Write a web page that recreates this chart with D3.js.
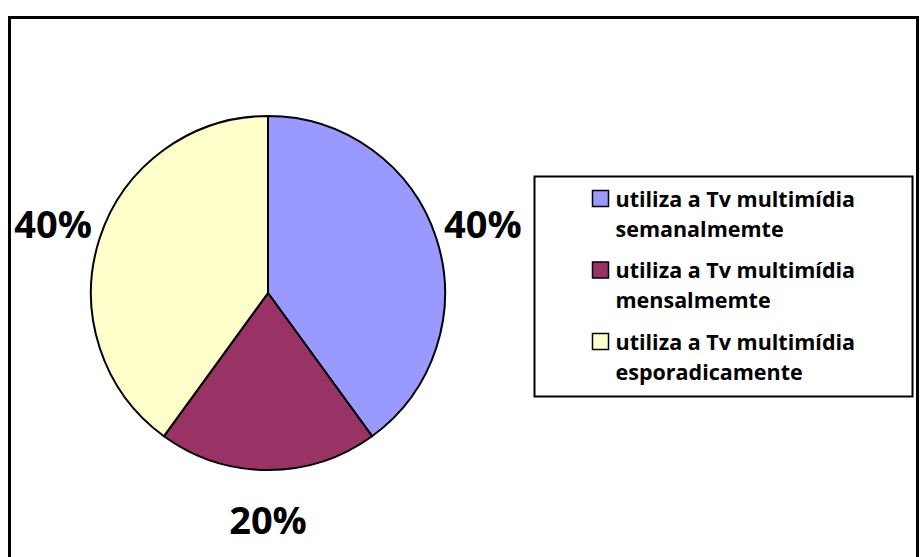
<!DOCTYPE html>
<html>
<head>
<meta charset="utf-8">
<script src="https://cdn.jsdelivr.net/npm/d3@7"></script>
<style>
  body { margin: 0; background: #fff; }
  svg { display: block; }
  .pct { font-family: "Open Sans", Lato, sans-serif; font-weight: 700; font-size: 38px; fill: #000; }
  .leg { font-family: "Open Sans", Lato, sans-serif; font-weight: 700; font-size: 21.5px; fill: #000; font-variant-ligatures: none; }
</style>
</head>
<body>
<div id="chart"></div>
<script>
// data
const categories = [
  ['utiliza a Tv multimídia', 'semanalmemte'],
  ['utiliza a Tv multimídia', 'mensalmemte'],
  ['utiliza a Tv multimídia', 'esporadicamente']
];
const values = [40, 20, 40];
const labels = ['40%', '20%', '40%'];
const colors = ['#9999FF', '#993366', '#FFFFCC'];

const width = 923;
const height = 557;

// pie geometry
const cx = 268;
const cy = 293;
const radius = 177;
const labelRadius = 226;

const $svg = d3.select('#chart').append('svg')
  .attr('width', width)
  .attr('height', height);

// outer chart frame
$svg.append('rect')
  .attr('x', 9.5)
  .attr('y', 17.5)
  .attr('width', 908)
  .attr('height', 560)
  .attr('fill', 'none')
  .attr('stroke', '#000')
  .attr('stroke-width', 3);

const pie = d3.pie().sort(null).value(d => d)(values);
const arc = d3.arc().innerRadius(0).outerRadius(radius);
const labelArc = d3.arc().innerRadius(labelRadius).outerRadius(labelRadius);

const $pie = $svg.append('g').attr('transform', `translate(${cx},${cy})`);

$pie.selectAll('path.slice')
  .data(pie)
  .enter()
  .append('path')
  .attr('class', 'slice')
  .attr('d', arc)
  .attr('fill', (d, i) => colors[i])
  .attr('stroke', '#000')
  .attr('stroke-width', 2)
  .attr('stroke-linejoin', 'round');

$pie.selectAll('text.pct')
  .data(pie)
  .enter()
  .append('text')
  .attr('class', 'pct')
  .attr('transform', d => `translate(${labelArc.centroid(d)})`)
  .attr('text-anchor', 'middle')
  .attr('dominant-baseline', 'central')
  .text((d, i) => labels[i]);

// legend
const legX = 534.5;
const legY = 176.5;
const legW = 378;
const legH = 220;
const rowStep = 71.5;

const $leg = $svg.append('g');
$leg.append('rect')
  .attr('x', legX)
  .attr('y', legY)
  .attr('width', legW)
  .attr('height', legH)
  .attr('fill', '#fff')
  .attr('stroke', '#000')
  .attr('stroke-width', 2);

const $rows = $leg.selectAll('g.row')
  .data(categories)
  .enter()
  .append('g')
  .attr('class', 'row')
  .attr('transform', (d, i) => `translate(${legX}, ${legY + 30 + i * rowStep})`);

$rows.append('rect')
  .attr('x', 58)
  .attr('y', -16)
  .attr('width', 16)
  .attr('height', 16)
  .attr('fill', (d, i) => colors[i])
  .attr('stroke', '#000')
  .attr('stroke-width', 1.5);

$rows.append('text')
  .attr('class', 'leg')
  .attr('x', 81)
  .attr('y', 0)
  .selectAll('tspan')
  .data(d => d)
  .enter()
  .append('tspan')
  .attr('x', 81)
  .attr('dy', (d, i) => i === 0 ? 0 : 30)
  .text(d => d);
</script>
</body>
</html>
